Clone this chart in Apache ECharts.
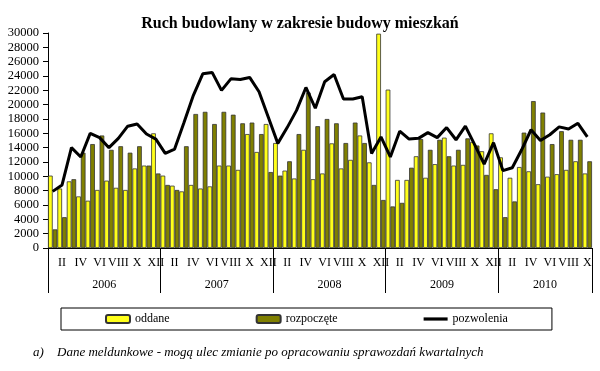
<!DOCTYPE html>
<html>
<head>
<meta charset="utf-8">
<script src="https://cdn.jsdelivr.net/npm/echarts@6/dist/echarts.min.js"></script>
<style>html,body{margin:0;padding:0;background:#fff;}#c{width:600px;height:371px;}</style>
</head>
<body>
<div id="c"></div>
<script>
const categories = [
  'I','II','III','IV','V','VI','VII','VIII','IX','X','XI','XII',
  'I','II','III','IV','V','VI','VII','VIII','IX','X','XI','XII',
  'I','II','III','IV','V','VI','VII','VIII','IX','X','XI','XII',
  'I','II','III','IV','V','VI','VII','VIII','IX','X','XI','XII',
  'I','II','III','IV','V','VI','VII','VIII','IX','X'
];
const oddane = [
  10100, 8300, 9300, 7200, 6600, 8100, 9400, 8400, 8100, 11100, 11500, 16000,
  10100, 8700, 7900, 8800, 8300, 8600, 11500, 11500, 10900, 15900, 13400, 17300,
  14650, 10800, 9700, 13700, 9600, 10400, 14600, 11100, 12300, 15700, 11950, 29900,
  22100, 9500, 9500, 12800, 9800, 11700, 15400, 11500, 11600, 14800, 13500, 16000,
  12650, 9800, 11300, 10700, 8900, 9950, 10300, 10900, 12100, 10400
];
const rozpoczete = [
  2600, 4300, 9600, 13300, 14500, 15700, 13700, 14200, 13300, 14200, 11500, 10400,
  8800, 8100, 14200, 18700, 19000, 17300, 19000, 18600, 17400, 17500, 15900, 10600,
  10100, 12100, 15900, 21700, 17000, 18000, 17400, 14650, 17500, 14650, 8800, 6700,
  5800, 6300, 11200, 15200, 13700, 15100, 12800, 13700, 15300, 14300, 10200, 8200,
  4300, 6500, 16100, 20500, 18900, 14500, 16300, 15100, 15100, 12100
];
const pozwolenia = [
  7900, 8800, 14000, 12700, 16000, 15400, 14000, 15300, 17000, 17300, 15900, 15200,
  13200, 13800, 17500, 21300, 24300, 24500, 22000, 23600, 23500, 23800, 21800, 18200,
  14600, 16800, 19200, 22400, 19500, 23200, 24200, 20800, 20800, 21100, 13200, 15500,
  12700, 16300, 15200, 15300, 16100, 15400, 16800, 15100, 17000, 14400, 11700, 14700,
  10800, 11200, 13700, 16500, 15000, 15800, 16900, 16600, 17400, 15500
];
const yearLabels = ['2006', '2007', '2008', '2009', '2010'];
const yearLabelAt = [6, 18, 30, 42, 53];
const yearBounds = [0, 12, 24, 36, 48, 58];
const seriesNames = ['oddane', 'rozpoczęte', 'pozwolenia'];
const titleText = 'Ruch budowlany w zakresie budowy mieszkań';
const noteMark = 'a)';
const noteText = 'Dane meldunkowe - mogą ulec zmianie po opracowaniu sprawozdań kwartalnych';

const FF = '"Liberation Serif", "Times New Roman", serif';
const chart = echarts.init(document.getElementById('c'), null, {renderer: 'canvas'});
chart.setOption({
  animation: false,
  backgroundColor: '#fff',
  title: [
    {text: titleText, left: 'center', top: 11,
     textStyle: {fontFamily: FF, fontWeight: 'bold', fontSize: 16, color: '#000'}},
    {text: noteMark, left: 28, top: 341,
     textStyle: {fontFamily: FF, fontStyle: 'italic', fontWeight: 'normal', fontSize: 13, color: '#000'}},
    {text: noteText, left: 52, top: 341,
     textStyle: {fontFamily: FF, fontStyle: 'italic', fontWeight: 'normal', fontSize: 13, color: '#000'}}
  ],
  legend: {
    data: [
      {name: seriesNames[0]},
      {name: seriesNames[1]},
      {name: seriesNames[2], icon: 'path://M0,0L24,0L24,3.2L0,3.2Z'}
    ],
    left: 61, top: 308,
    padding: [5, 44, 5, 44],
    itemGap: 86, itemWidth: 24, itemHeight: 8,
    borderColor: '#000', borderWidth: 1, borderRadius: 0,
    textStyle: {fontFamily: FF, fontSize: 12, color: '#000'}
  },
  grid: {left: 48, right: 8, top: 33, bottom: 123},
  xAxis: [
    {
      type: 'category', data: categories, position: 'bottom',
      axisLine: {show: true, lineStyle: {color: '#000', width: 1}},
      axisTick: {show: false},
      axisLabel: {interval: (i) => i % 2 === 1, margin: 9, fontFamily: FF, fontSize: 12, color: '#000'},
      splitLine: {show: false}
    },
    {
      type: 'value', position: 'bottom', min: 0, max: 58,
      axisLine: {show: false},
      splitLine: {show: false},
      axisTick: {show: true, customValues: yearBounds, length: 45, lineStyle: {color: '#000', width: 1}},
      axisLabel: {customValues: yearLabelAt, margin: 31, fontFamily: FF, fontSize: 12, color: '#000',
        formatter: (v) => { const k = yearLabelAt.indexOf(Math.round(v)); return k >= 0 ? yearLabels[k] : ''; }}
    }
  ],
  yAxis: {
    type: 'value', min: 0, max: 30000, interval: 2000,
    axisLine: {show: true, lineStyle: {color: '#000', width: 1}},
    axisTick: {show: true, length: 5, lineStyle: {color: '#000'}},
    splitLine: {show: false},
    axisLabel: {margin: 9, fontFamily: FF, fontSize: 12.5, color: '#000', formatter: (v) => String(v)}
  },
  series: [
    {name: seriesNames[0], type: 'bar', xAxisIndex: 0, data: oddane,
     barGap: '0%', barCategoryGap: '0%',
     itemStyle: {color: '#FFFF1A', borderColor: '#333', borderWidth: 0.8}},
    {name: seriesNames[1], type: 'bar', xAxisIndex: 0, data: rozpoczete,
     barGap: '0%', barCategoryGap: '0%',
     itemStyle: {color: '#808000', borderColor: '#333', borderWidth: 0.8}},
    {name: seriesNames[2], type: 'line', xAxisIndex: 0, data: pozwolenia,
     symbol: 'none', z: 5,
     lineStyle: {color: '#000', width: 3}, itemStyle: {color: '#000'}}
  ]
});
</script>
</body>
</html>
